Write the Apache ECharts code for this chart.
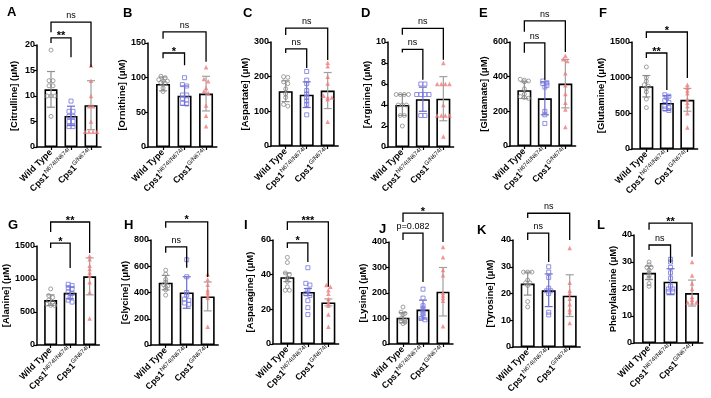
<!DOCTYPE html>
<html>
<head>
<meta charset="utf-8">
<script src="https://cdn.jsdelivr.net/npm/echarts@6/dist/echarts.min.js"></script>
<style>
  html, body { margin: 0; background: #fff; }
  #chart { width: 711px; height: 398px; }
</style>
</head>
<body>
<div id="chart"></div>
<script>
// panel data
const letters = ['A', 'B', 'C', 'D', 'E', 'F', 'G', 'H', 'I', 'J', 'K', 'L']
const yNames = ['[Citrulline] (μM)', '[Ornithine] (μM)', '[Aspartate] (μM)', '[Arginine] (μM)', '[Glutamate] (μM)', '[Glutamine] (μM)',
  '[Alanine] (μM)', '[Glycine] (μM)', '[Asparagine] (μM)', '[Lysine] (μM)', '[Tyrosine] (μM)', 'Phenylalanine (μM)']
const yMax = [20, 150, 300, 10, 600, 1500, 1500, 800, 60, 400, 40, 40]
const yStep = [5, 50, 100, 2, 200, 500, 500, 200, 20, 100, 10, 10]

const means = [[11.3, 6.1, 8.2], [91, 74, 77], [158, 148, 160], [4.0, 4.55, 4.6], [322, 275, 360], [880, 645, 690],
  [680, 790, 1040], [475, 400, 370], [38.5, 30, 24], [103, 135, 205], [23.7, 21.2, 19.2], [26, 22.7, 18.5]]
const sds = [[3.5, 1.9, 4.8], [10, 14, 25], [30, 37, 52], [1.0, 1.15, 2.1], [48, 95, 140], [150, 105, 160],
  [80, 90, 280], [55, 120, 110], [2.5, 2, 2], [20, 37, 95], [4.3, 6.1, 7.8], [2.5, 4.8, 4.8]]

const wtPoints = [
  [19, 13, 13, 12, 12, 10, 10, 10, 6],
  [102, 100, 97, 95, 95, 93, 92, 85, 80],
  [200, 198, 185, 180, 165, 150, 140, 120, 115],
  [5, 5, 5, 5, 4, 4, 4, 3, 3, 2],
  [385, 380, 375, 370, 330, 300, 285, 280, 275],
  [1150, 1000, 950, 900, 880, 850, 800, 700, 580],
  [850, 750, 720, 680, 650, 620, 600, 600],
  [570, 540, 500, 480, 460, 450, 440, 420, 380],
  [50, 47, 41, 40, 38, 36, 33, 31, 31],
  [145, 125, 120, 115, 100, 95, 90, 85, 80],
  [28, 28, 28, 25, 24, 24, 23, 17, 15],
  [30, 29, 28, 28, 27, 26, 25, 24, 22, 21]
]
const homPoints = [
  [9, 7, 7, 6, 6, 5, 5, 4, 4],
  [100, 90, 88, 75, 75, 70, 68, 63, 62],
  [215, 190, 180, 160, 150, 140, 130, 120, 90],
  [6, 6, 5, 5, 5, 5, 3, 3],
  [375, 365, 360, 350, 340, 200, 180, 130],
  [760, 740, 720, 680, 650, 600, 580, 560, 540],
  [920, 900, 870, 850, 800, 780, 720, 680, 650],
  [650, 520, 400, 380, 350, 340, 320, 310],
  [44, 35, 34, 31, 29, 28, 25, 21, 17],
  [215, 180, 150, 140, 130, 120, 110, 100, 95],
  [30, 28, 26, 22, 21, 21, 20, 13, 12],
  [31, 30, 28, 26, 24, 21, 20, 20, 19, 19]
]
const hetPoints = [
  [16, 13, 10, 8, 8, 5, 3, 3, 3, 3],
  [115, 98, 95, 85, 80, 78, 60, 45, 30],
  [240, 230, 200, 180, 145, 140, 140, 135, 70],
  [8, 6, 6, 6, 6, 4, 3, 3, 3, 3, 1],
  [520, 500, 490, 420, 350, 300, 250, 210, 110],
  [900, 860, 820, 780, 700, 650, 600, 500, 300],
  [1350, 1300, 1200, 1150, 1100, 1050, 950, 800, 400],
  [540, 500, 460, 420, 400, 380, 360, 140],
  [34, 33, 31, 29, 26, 24, 22, 17, 10],
  [380, 340, 290, 270, 200, 190, 180, 170, 70],
  [37, 24, 21, 20, 18, 16, 14, 13, 9],
  [30, 25, 22, 20, 17, 16, 15, 15, 15]
]

// significance brackets: [level, left leg end, right leg end]
const innerBracket = [[21.4, 20.4, 17.6], [135.6, 128, 118], [280, 268, 225], [9.3, 9.0, 6.4], [595, 538, 382], [1346, 1276, 828],
  [1545, 1470, 1167], [748, 702, 588], [58.3, 55.4, 47.3], [435, 408, 243], [42.6, 40, 31.8], [36.3, 34.4, 29.6]]
const outerBracket = [[24.5, 22.5, 15.7], [166, 156, 123], [340, 320, 248], [11.3, 10.7, 8.3], [722, 659, 543], [1640, 1556, 995],
  [1864, 1712, 1394], [938, 893, 519], [70.4, 65.8, 33], [513, 478, 400], [50, 48.2, 40], [44.4, 41.9, 31.9]]
const innerLabel = ['**', '*', 'ns', 'ns', 'ns', '**', '*', 'ns', '*', 'p=0.082', 'ns', 'ns']
const outerLabel = ['ns', 'ns', 'ns', 'ns', 'ns', '*', '**', '*', '***', '*', 'ns', '**']

// layout: [left, top, bottom, category spacing, nameGap]
const layout = [
  [37, 45, 147, 20, 18], [148, 43, 147, 21.5, 14], [271, 42, 146, 21, 13], [388, 42, 147, 20.5, 14], [510, 42, 146, 20.5, 20], [632, 42, 149, 20.5, 20],
  [37, 246, 345, 19.5, 19], [151, 240, 345, 21, 16], [273, 240, 344, 20.5, 18], [389, 242, 344, 20, 14], [513, 240, 347, 21, 18], [634, 235, 343, 21.5, 14]
]
const letterPos = [[2, 1], [118, 2], [238, 2], [356, 2], [474, 2], [594, 2], [3, 214], [119, 214], [239, 214], [374, 218], [472, 219], [592, 214]]

const FONT = 'Liberation Sans'
const groupColors = ['#8a8a8a', '#7676e0', '#f07a7a']
const errColors = ['#8f8f8f', '#6b6bc9', '#a0a0a0']

// spread equal-ish values side by side like a dot plot
function swarm(vals, center, tol) {
  const sorted = vals.slice().sort((a, b) => b - a)
  const out = []
  let i = 0
  while (i < sorted.length) {
    let j = i
    while (j + 1 < sorted.length && sorted[i] - sorted[j + 1] <= tol) j++
    const n = j - i + 1
    for (let k = 0; k < n; k++) {
      out.push([center + (k - (n - 1) / 2) * 0.2, sorted[i + k]])
    }
    i = j + 1
  }
  return out
}

function errRender(color) {
  return function (params, api) {
    const x = api.value(0), m = api.value(1), s = api.value(2)
    const top = api.coord([x, m + s]), bot = api.coord([x, m - s])
    const w = 4
    const st = { stroke: color, lineWidth: 1.2 }
    return {
      type: 'group',
      children: [
        { type: 'line', shape: { x1: top[0], y1: top[1], x2: bot[0], y2: bot[1] }, style: st },
        { type: 'line', shape: { x1: top[0] - w, y1: top[1], x2: top[0] + w, y2: top[1] }, style: st },
        { type: 'line', shape: { x1: bot[0] - w, y1: bot[1], x2: bot[0] + w, y2: bot[1] }, style: st }
      ]
    }
  }
}

function bracketRender(labels) {
  return function (params, api) {
    const x1 = api.value(0), x2 = api.value(1), lvl = api.value(2), le = api.value(3), re = api.value(4)
    const a = api.coord([x1, lvl]), b = api.coord([x2, lvl])
    const c = api.coord([x1, le]), d = api.coord([x2, re])
    const txt = labels[params.dataIndex]
    const star = txt.charAt(0) === '*'
    return {
      type: 'group',
      children: [
        { type: 'polyline', shape: { points: [c, a, b, d] }, style: { stroke: '#000', lineWidth: 1.3, fill: null } },
        {
          type: 'text',
          x: (a[0] + b[0]) / 2,
          y: a[1] + (star ? 4 : -2),
          style: {
            text: txt, textAlign: 'center', textVerticalAlign: 'bottom', fill: '#000',
            font: (star ? 'bold 11px ' : '9px ') + FONT
          }
        }
      ]
    }
  }
}

const catLabel = {
  1: '{b|Wild Type}',
  2: '{b|Cps1}{s|N674I/N674I}',
  3: '{b|Cps1}{s|G/N674I}'
}

const grid = [], xAxis = [], yAxis = [], series = [], title = []
for (let i = 0; i < 12; i++) {
  const [left, top, bottom, sp, gap] = layout[i]
  grid.push({ left: left, top: top, width: sp * 3.2, height: bottom - top })
  title.push({ text: letters[i], left: letterPos[i][0], top: letterPos[i][1], textStyle: { fontSize: 13, fontWeight: 'bold', fontFamily: FONT, color: '#000' } })
  xAxis.push({
    type: 'value', gridIndex: i, min: 0.3, max: 3.5,
    splitLine: { show: false },
    axisLine: { lineStyle: { color: '#000', width: 1.5 } },
    axisTick: { show: true, customValues: [1, 2, 3], length: 3, lineStyle: { color: '#000', width: 1.2 } },
    axisLabel: {
      customValues: [1, 2, 3], rotate: 45, margin: 4,
      formatter: v => catLabel[Math.round(v)],
      rich: {
        b: { fontSize: 9, fontWeight: 'bold', fontFamily: FONT, color: '#000', lineHeight: 12 },
        s: { fontSize: 6, fontFamily: FONT, color: '#000', verticalAlign: 'top', lineHeight: 12, padding: [0, 0, 4, 0] }
      }
    }
  })
  yAxis.push({
    type: 'value', gridIndex: i, min: 0, max: yMax[i], interval: yStep[i],
    splitLine: { show: false },
    axisLine: { show: true, lineStyle: { color: '#000', width: 1.5 } },
    axisTick: { show: true, length: 3, lineStyle: { color: '#000', width: 1.2 } },
    axisLabel: { fontSize: 9, fontWeight: 'bold', fontFamily: FONT, color: '#000', margin: 2, formatter: v => String(v) },
    name: yNames[i], nameLocation: 'middle', nameGap: gap,
    nameTextStyle: { fontSize: 9.5, fontWeight: 'bold', fontFamily: FONT, color: '#000' }
  })
  series.push({
    type: 'bar', xAxisIndex: i, yAxisIndex: i, barWidth: Math.round(sp * 0.66),
    data: means[i].map((m, g) => [g + 1, m]),
    itemStyle: { color: '#fff', borderColor: '#000', borderWidth: 1.6 },
    z: 2, silent: true
  })
  series.push({
    type: 'custom', xAxisIndex: i, yAxisIndex: i, z: 3, silent: true,
    data: means[i].map((m, g) => [g + 1, m, sds[i][g]]),
    renderItem: function (params, api) {
      return errRender(errColors[params.dataIndex])(params, api)
    }
  })
  const tol = yMax[i] * 0.02
  const pts = [wtPoints[i], homPoints[i], hetPoints[i]]
  const symbols = ['circle', 'rect', 'triangle']
  pts.forEach((vals, g) => {
    series.push({
      type: 'scatter', xAxisIndex: i, yAxisIndex: i, z: 4, silent: true,
      symbol: symbols[g], symbolSize: g === 2 ? 4.5 : 4,
      data: swarm(vals, g + 1, tol),
      itemStyle: g === 2
        ? { color: groupColors[g] }
        : { color: 'rgba(255,255,255,0)', borderColor: groupColors[g], borderWidth: 1 }
    })
  })
  series.push({
    type: 'custom', xAxisIndex: i, yAxisIndex: i, z: 5, silent: true, clip: false,
    data: [[1, 2].concat(innerBracket[i])],
    renderItem: bracketRender([innerLabel[i]])
  })
  series.push({
    type: 'custom', xAxisIndex: i, yAxisIndex: i, z: 5, silent: true, clip: false,
    data: [[1, 3].concat(outerBracket[i])],
    renderItem: bracketRender([outerLabel[i]])
  })
}

const chart = echarts.init(document.getElementById('chart'))
chart.setOption({
  animation: false,
  backgroundColor: '#fff',
  textStyle: { fontFamily: FONT },
  title: title,
  grid: grid,
  xAxis: xAxis,
  yAxis: yAxis,
  series: series
})
</script>
</body>
</html>
